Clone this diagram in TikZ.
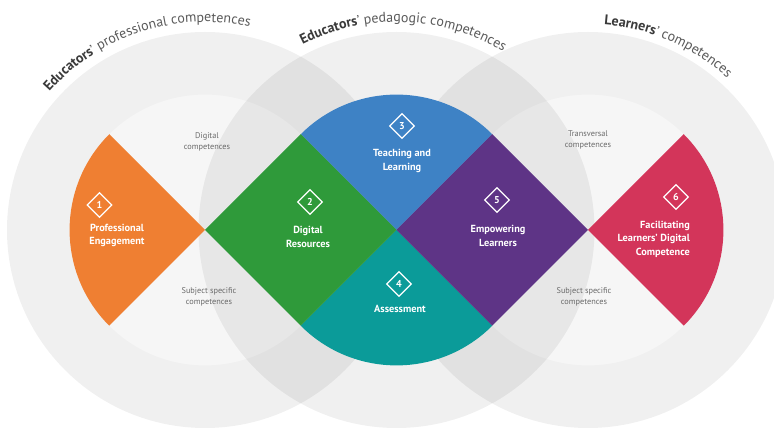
\documentclass[tikz,border=0pt]{standalone}
\usepackage{fontspec}
\setmainfont{PT Sans}
\usetikzlibrary{decorations.text,shapes.geometric}
\definecolor{corange}{HTML}{EF7F32}
\definecolor{cgreen}{HTML}{2F9A3A}
\definecolor{cblue}{HTML}{3E82C5}
\definecolor{cpurple}{HTML}{5E3486}
\definecolor{cteal}{HTML}{0B9B99}
\definecolor{cred}{HTML}{D3355A}
\definecolor{ttldark}{HTML}{3A3A3A}
\definecolor{ttllight}{HTML}{5A5A5A}
\definecolor{smallgray}{HTML}{6A6A6A}
\newcommand\ttlB{\fontsize{14}{16}\selectfont\bfseries\color{ttldark}}
\newcommand\ttlR{\fontsize{14}{16}\selectfont\mdseries\color{ttllight}}
\begin{document}
\begin{tikzpicture}[x=1pt,y=1pt,
  outerdisk/.style={fill=black,fill opacity=0.035},
  ringpart/.style={fill=black,fill opacity=0.025,even odd rule},
  lbl/.style={text=white,font=\fontsize{10.3}{13.5}\selectfont\bfseries,align=center,inner sep=0pt},
  small/.style={text=smallgray,font=\fontsize{8.3}{11}\selectfont,align=center,inner sep=0pt},
  icon/.style={diamond,aspect=1,draw=white,line width=1.2pt,minimum size=25pt,inner sep=0pt,
    text=white,font=\fontsize{10}{10}\selectfont\bfseries}]
\useasboundingbox (0,0) rectangle (774,430);
\fill[white] (0,0) rectangle (774,430);
\def\rin{135.41}\def\rout{198}
\coordinate (L) at (205,200);
\coordinate (M) at (396.5,200);
\coordinate (R) at (588,200);
\foreach \c in {L,M,R}{
  \fill[outerdisk] (\c) circle (\rout);
  \fill[ringpart] (\c) circle (\rout) (\c) circle (\rin);
}
% coloured areas
\fill[corange] (L) -- ++(135:\rin) arc (135:225:\rin) -- cycle;
\fill[cred] (R) -- ++(-45:\rin) arc (-45:45:\rin) -- cycle;
\fill[cblue] (M) -- ++(45:\rin) arc (45:135:\rin) -- cycle;
\fill[cteal] (M) -- ++(225:\rin) arc (225:315:\rin) -- cycle;
\fill[cgreen] (L) -- ++(45:\rin) -- (M) -- ++(-135:\rin) -- cycle;
\fill[cpurple] (M) -- ++(45:\rin) -- (R) -- ++(-135:\rin) -- cycle;
% icons
\node[icon] (i1) at (99.5,225) {1};
\node[icon] (i2) at (310,228) {2};
\node[icon] (i3) at (402,304) {3};
\node[icon] (i4) at (399,146) {4};
\node[icon] (i5) at (497,230) {5};
\node[icon] (i6) at (676,233) {6};
% labels
\node[lbl] (l1) at (117,194.5) {Professional\\Engagement};
\node[lbl] (l2) at (308,193) {Digital\\Resources};
\node[lbl] (l3) at (402,269) {Teaching and\\Learning};
\node[lbl] (l4) at (400,121) {Assessment};
\node[lbl] (l5) at (498,194) {Empowering\\Learners};
\node[lbl,align=right,anchor=east] (l6) at (690,191) {Facilitating\\Learners’ Digital\\Competence};
% small gray texts
\node[small] (s1) at (207,288.5) {Digital\\competences};
\node[small] (s2) at (209,133.5) {Subject specific\\competences};
\node[small] (s3) at (588,290) {Transversal\\competences};
\node[small] (s4) at (584,133.5) {Subject specific\\competences};
% curved titles
\path[decorate,decoration={text along path,text align=center,
  text={|\ttlB|Educators|\ttlR|’ professional competences}}]
  (L) ++(150:208) arc (150:66:208);
\path[decorate,decoration={text along path,text align=center,
  text={|\ttlB|Educators|\ttlR|’ pedagogic competences}}]
  (M) ++(130:208) arc (130:46:208);
\path[decorate,decoration={text along path,text align=center,
  text={|\ttlB|Learners|\ttlR|’ competences}}]
  (R) ++(105:206) arc (105:28:206);
\end{tikzpicture}
\end{document}
